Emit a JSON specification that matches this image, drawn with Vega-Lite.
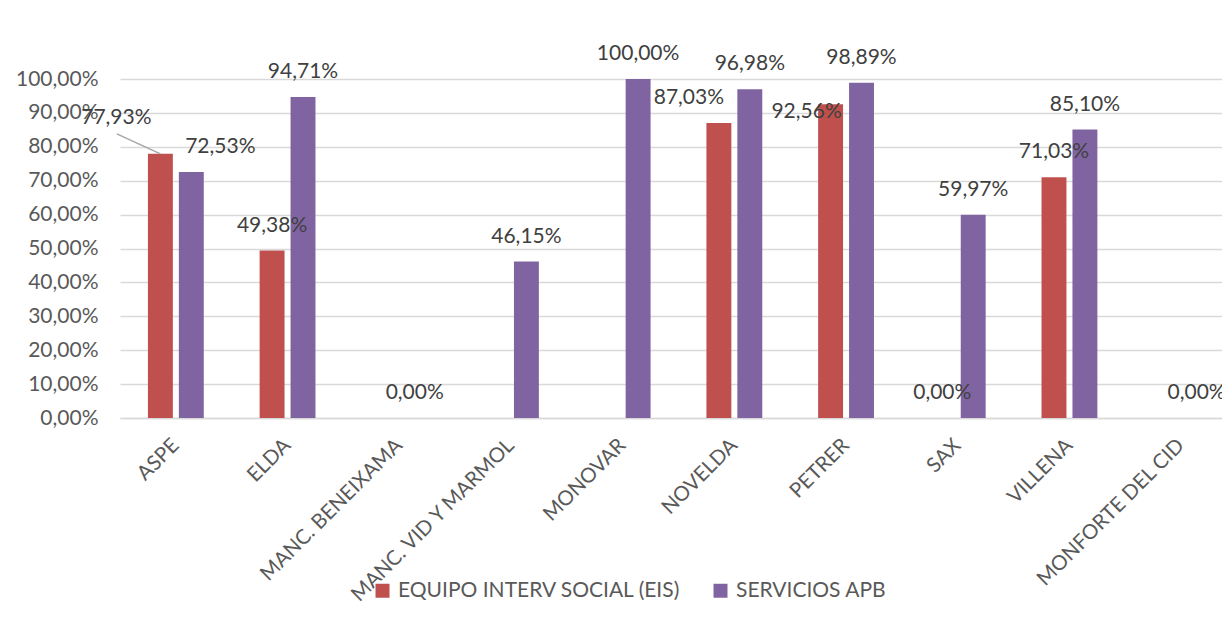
{
  "$schema": "https://vega.github.io/schema/vega-lite/v6.json",
  "width": 1102,
  "height": 339,
  "autosize": {"type": "none"},
  "padding": {"left": 120, "top": 79, "right": 0, "bottom": 201},
  "background": "white",
  "config": {
    "locale": {"number": {"decimal": ",", "thousands": ".", "grouping": [3], "currency": ["", " €"]}},
    "font": "Lato",
    "view": {"stroke": null}
  },
  "data": {
    "values": [
      {"zona": "ASPE", "serie": "EQUIPO INTERV SOCIAL (EIS)", "valor": 0.7793},
      {"zona": "ASPE", "serie": "SERVICIOS APB", "valor": 0.7253},
      {"zona": "ELDA", "serie": "EQUIPO INTERV SOCIAL (EIS)", "valor": 0.4938},
      {"zona": "ELDA", "serie": "SERVICIOS APB", "valor": 0.9471},
      {"zona": "MANC. BENEIXAMA", "serie": "SERVICIOS APB", "valor": 0.0},
      {"zona": "MANC. VID Y MARMOL", "serie": "SERVICIOS APB", "valor": 0.4615},
      {"zona": "MONOVAR", "serie": "SERVICIOS APB", "valor": 1.0},
      {"zona": "NOVELDA", "serie": "EQUIPO INTERV SOCIAL (EIS)", "valor": 0.8703},
      {"zona": "NOVELDA", "serie": "SERVICIOS APB", "valor": 0.9698},
      {"zona": "PETRER", "serie": "EQUIPO INTERV SOCIAL (EIS)", "valor": 0.9256},
      {"zona": "PETRER", "serie": "SERVICIOS APB", "valor": 0.9889},
      {"zona": "SAX", "serie": "EQUIPO INTERV SOCIAL (EIS)", "valor": 0.0},
      {"zona": "SAX", "serie": "SERVICIOS APB", "valor": 0.5997},
      {"zona": "VILLENA", "serie": "EQUIPO INTERV SOCIAL (EIS)", "valor": 0.7103},
      {"zona": "VILLENA", "serie": "SERVICIOS APB", "valor": 0.851},
      {"zona": "MONFORTE DEL CID", "serie": "SERVICIOS APB", "valor": 0.0}
    ]
  },
  "encoding": {
    "x": {
      "field": "zona",
      "type": "nominal",
      "sort": ["ASPE", "ELDA", "MANC. BENEIXAMA", "MANC. VID Y MARMOL", "MONOVAR", "NOVELDA", "PETRER", "SAX", "VILLENA", "MONFORTE DEL CID"],
      "scale": {"range": [0, 1117], "paddingInner": 0.5, "paddingOuter": 0.25},
      "axis": {
        "title": null,
        "labelAngle": -45,
        "labelAlign": "right",
        "labelBaseline": "middle",
        "labelFontSize": 20.5,
        "labelColor": "#595959",
        "labelPadding": 24,
        "labelDx": 0,
        "labelDy": 6,
        "labelLimit": 0,
        "ticks": false,
        "domain": true,
        "domainColor": "#D9D9D9",
        "domainWidth": 1.5,
        "grid": false
      }
    },
    "xOffset": {
      "field": "serie",
      "type": "nominal",
      "sort": ["EQUIPO INTERV SOCIAL (EIS)", "SERVICIOS APB"],
      "scale": {"paddingInner": 0.194, "paddingOuter": 0}
    },
    "y": {
      "field": "valor",
      "type": "quantitative",
      "scale": {"domain": [0, 1], "nice": false},
      "axis": {
        "title": null,
        "values": [0, 0.1, 0.2, 0.3, 0.4, 0.5, 0.6, 0.7, 0.8, 0.9, 1.0],
        "format": ".2%",
        "labelFontSize": 21,
        "labelColor": "#595959",
        "labelPadding": 22,
        "ticks": false,
        "domain": false,
        "grid": true,
        "gridColor": "#D9D9D9",
        "gridWidth": 1.3
      }
    }
  },
  "layer": [
    {
      "mark": {"type": "bar"},
      "encoding": {
        "color": {
          "field": "serie",
          "type": "nominal",
          "scale": {"domain": ["EQUIPO INTERV SOCIAL (EIS)", "SERVICIOS APB"], "range": ["#C0504D", "#8064A2"]},
          "legend": {
            "title": null,
            "orient": "none",
            "legendX": 252,
            "legendY": 501,
            "direction": "horizontal",
            "symbolType": "square",
            "symbolSize": 196,
            "symbolStrokeWidth": 0,
            "symbolOpacity": 1,
            "labelFontSize": 21,
            "labelColor": "#595959",
            "labelOffset": 5,
            "labelLimit": 0,
            "columnPadding": 29,
            "padding": 0
          }
        }
      }
    },
    {
      "transform": [{"filter": "datum.zona != 'ASPE' && !((datum.zona == 'NOVELDA' || datum.zona == 'PETRER') && datum.serie == 'EQUIPO INTERV SOCIAL (EIS)')"}],
      "mark": {"type": "text", "fontSize": 21, "color": "#404040", "baseline": "middle", "dy": -25},
      "encoding": {"text": {"field": "valor", "type": "quantitative", "format": ".2%"}}
    },
    {
      "transform": [{"filter": "datum.zona == 'ASPE' && datum.serie == 'EQUIPO INTERV SOCIAL (EIS)'"}],
      "mark": {"type": "text", "fontSize": 21, "color": "#404040", "baseline": "middle", "dx": -44, "dy": -36},
      "encoding": {"text": {"field": "valor", "type": "quantitative", "format": ".2%"}}
    },
    {
      "transform": [{"filter": "datum.zona == 'ASPE' && datum.serie == 'EQUIPO INTERV SOCIAL (EIS)'"}],
      "mark": {"type": "rule", "color": "#A6A6A6", "strokeWidth": 1.5, "x2Offset": -59, "y2Offset": -20},
      "encoding": {"x2": {"field": "zona"}, "y2": {"field": "valor"}}
    },
    {
      "transform": [{"filter": "datum.zona == 'ASPE' && datum.serie == 'SERVICIOS APB'"}],
      "mark": {"type": "text", "fontSize": 21, "color": "#404040", "baseline": "middle", "dx": 29, "dy": -25},
      "encoding": {"text": {"field": "valor", "type": "quantitative", "format": ".2%"}}
    },
    {
      "transform": [{"filter": "datum.zona == 'NOVELDA' && datum.serie == 'EQUIPO INTERV SOCIAL (EIS)'"}],
      "mark": {"type": "text", "fontSize": 21, "color": "#404040", "baseline": "middle", "dx": -30, "dy": -25},
      "encoding": {"text": {"field": "valor", "type": "quantitative", "format": ".2%"}}
    },
    {
      "transform": [{"filter": "datum.zona == 'PETRER' && datum.serie == 'EQUIPO INTERV SOCIAL (EIS)'"}],
      "mark": {"type": "text", "fontSize": 21, "color": "#404040", "baseline": "middle", "dx": -24, "dy": 8},
      "encoding": {"text": {"field": "valor", "type": "quantitative", "format": ".2%"}}
    }
  ]
}
